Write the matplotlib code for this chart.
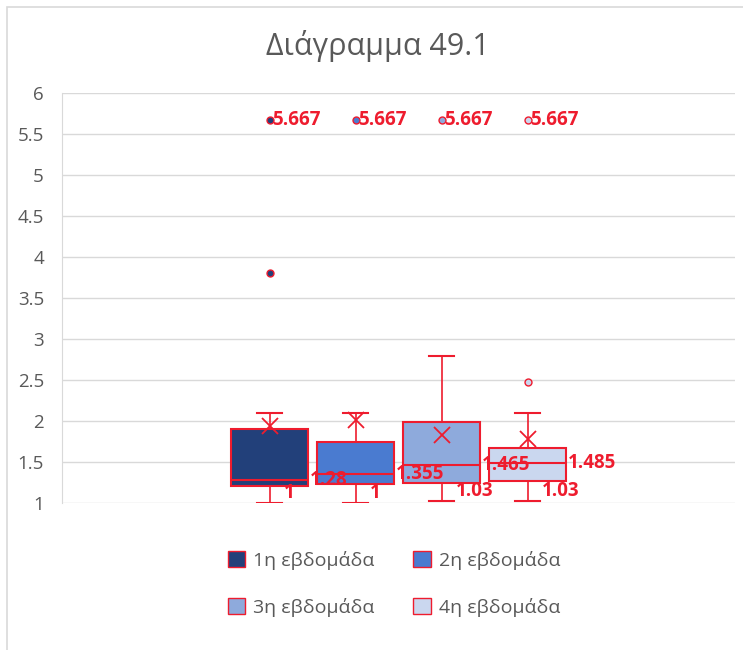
import matplotlib
matplotlib.use("Agg")
import matplotlib.pyplot as plt
from matplotlib.patches import Patch, Rectangle

plt.rcParams['font.family'] = ['Open Sans', 'DejaVu Sans']

# data
weeks = ["1η εβδομάδα", "2η εβδομάδα", "3η εβδομάδα", "4η εβδομάδα"]
min_vals = [1.0, 1.0, 1.03, 1.03]
q1_vals = [1.21, 1.23, 1.24, 1.27]
med_vals = [1.28, 1.355, 1.465, 1.485]
q3_vals = [1.9, 1.74, 1.99, 1.67]
max_vals = [2.1, 2.1, 2.79, 2.1]
mean_vals = [1.94, 2.01, 1.83, 1.78]
outliers = [[3.8, 5.667], [5.667], [5.667], [2.48, 5.667]]
colors = ["#22407A", "#4A7BD0", "#8EAADC", "#CAD7EF"]

red = "#EE1C2E"
gray = "#595959"

fig = plt.figure(figsize=(7.43, 6.5), dpi=100)
ax = fig.add_axes([62/743, 1-503/650, 673/743, 410/650])

stats = []
for i in range(len(weeks)):
    stats.append({"label": weeks[i], "whislo": min_vals[i], "q1": q1_vals[i],
                  "med": med_vals[i], "q3": q3_vals[i], "whishi": max_vals[i],
                  "mean": mean_vals[i], "fliers": outliers[i]})

pos = [1, 2, 3, 4]
res = ax.bxp(stats, positions=pos, widths=0.9, patch_artist=True, showmeans=True,
             boxprops=dict(edgecolor=red, linewidth=1.5),
             medianprops=dict(color=red, linewidth=1.5),
             whiskerprops=dict(color=red, linewidth=1.2),
             capprops=dict(color=red, linewidth=1.5),
             capwidths=0.28,
             meanprops=dict(marker="x", markeredgecolor=red, markersize=11, markeredgewidth=1.3),
             zorder=3)
for i, b in enumerate(res["boxes"]):
    b.set_facecolor(colors[i])
for i, f in enumerate(res["fliers"]):
    f.set_marker("o")
    f.set_markerfacecolor(colors[i])
    f.set_markeredgecolor(red)
    f.set_markersize(5)
    f.set_markeredgewidth(1)

# data labels
lab = dict(textcoords="offset pixels", ha="left", va="center",
           color=red, fontsize=13.5, fontweight="bold", zorder=5)
for i in range(len(weeks)):
    ax.annotate(f"{med_vals[i]:g}", (pos[i] + 0.45, med_vals[i]), xytext=(2, 0), **lab)
    ax.annotate(f"{min_vals[i]:g}", (pos[i], min_vals[i]), xytext=(14, 10), **lab)
    ax.annotate(f"{outliers[i][-1]:g}", (pos[i], outliers[i][-1]), xytext=(3, 0), **lab)

ax.set_xlim(2.5 - 336.5/86, 2.5 + 336.5/86)
ax.set_ylim(1, 6)
ticks = [1, 1.5, 2, 2.5, 3, 3.5, 4, 4.5, 5, 5.5, 6]
ax.set_yticks(ticks)
ax.set_yticklabels([f"{t:g}" for t in ticks], color=gray, fontsize=13.5)
ax.set_xticks([])
ax.tick_params(axis="y", length=0, pad=13)
ax.grid(axis="y", color="#D9D9D9", linewidth=1)
ax.set_axisbelow(True)
for s in ["top", "right", "bottom"]:
    ax.spines[s].set_visible(False)
ax.spines["left"].set_color("#D9D9D9")

fig.text(378/743, 1-46/650, "Διάγραμμα 49.1", ha="center", va="center",
         fontsize=22, color=gray)

# chart border
fig.patches.append(Rectangle((7/743, -0.1), 1.2, 1 - 7/650 + 0.1, transform=fig.transFigure,
                             fill=False, edgecolor="#D9D9D9", linewidth=1.2))

# legend filled row by row
order = [0, 2, 1, 3]
handles = [Patch(facecolor=colors[k], edgecolor=red, linewidth=1) for k in order]
fig.legend(handles, [weeks[k] for k in order], loc="center", bbox_to_anchor=(394/743, 1-584/650),
           ncol=2, frameon=False, fontsize=14, labelcolor=gray, handlelength=0.9,
           handleheight=0.9, handletextpad=0.4, columnspacing=2.0, labelspacing=1.45)

fig.savefig("out.png", dpi=100)
